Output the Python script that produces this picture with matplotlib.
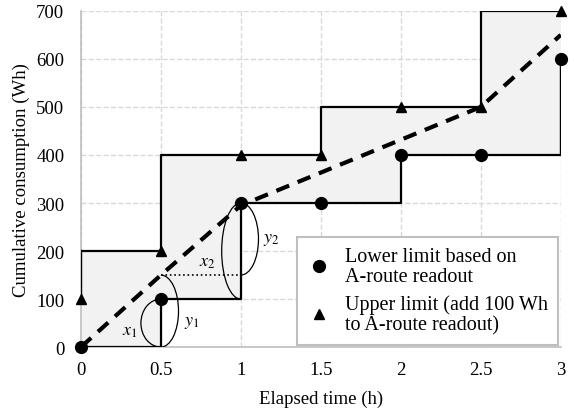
import matplotlib.pyplot as plt
from matplotlib.patches import Arc

plt.rcParams['font.family'] = ['Liberation Serif', 'DejaVu Serif']
plt.rcParams['mathtext.fontset'] = 'stix'

# data
time_h = [0, 0.5, 1, 1.5, 2, 2.5, 3]
lower_wh = [0, 100, 300, 300, 400, 400, 600]
upper_wh = [100, 200, 400, 400, 500, 500, 700]
est_time = [0, 0.5, 1, 2.5, 3]
est_wh = [0, 150, 295, 500, 650]

fig = plt.figure(figsize=(5.74, 4.10), dpi=100)
ax = fig.add_axes([0.141, 0.151, 0.836, 0.820])

# lower limit holds until the next reading, upper limit jumps at the start of each interval
for i in range(len(time_h) - 1):
    ax.fill_between([time_h[i], time_h[i + 1]], lower_wh[i], upper_wh[i + 1],
                    color='#f2f2f2', lw=0, zorder=1)
ax.step(time_h, lower_wh, where='post', color='black', lw=1.6, zorder=3)
ax.plot([time_h[-1], time_h[-1]], [lower_wh[-2], lower_wh[-1]], color='black', lw=1.6, zorder=3)
ax.step(time_h, upper_wh, where='pre', color='black', lw=1.6, zorder=3)
ax.plot([time_h[0], time_h[0]], [upper_wh[0], upper_wh[1]], color='black', lw=1.6, zorder=3)

ax.plot(est_time, est_wh, color='black', lw=3, ls=(0, (3.3, 2.2)), zorder=4)

ax.plot(time_h, lower_wh, 'o', color='black', ms=8.5, zorder=5, clip_on=False,
        label='Lower limit based on\nA-route readout')
ax.plot(time_h, upper_wh, '^', color='black', ms=7.5, zorder=5, clip_on=False,
        label='Upper limit (add 100 Wh\nto A-route readout)')

# dotted helper line and arcs
ax.plot([0.5, 1], [150, 150], color='black', lw=1.2, ls=':', zorder=3)
arcs = [(0.5, 50, 0.25, 100, 90, 270),
        (0.5, 75, 0.22, 150, -90, 90),
        (1, 200, 0.24, 200, 90, 270),
        (1, 225, 0.22, 150, -90, 90)]
for cx, cy, w, h, t1, t2 in arcs:
    ax.add_patch(Arc((cx, cy), w, h, theta1=t1, theta2=t2, color='black', lw=0.9, zorder=6))

ax.text(0.306, 35, '$x_1$', fontsize=13, ha='center', va='center')
ax.text(0.69, 54, '$y_1$', fontsize=13, ha='center', va='center')
ax.text(0.79, 179, '$x_2$', fontsize=13, ha='center', va='center')
ax.text(1.19, 227, '$y_2$', fontsize=13, ha='center', va='center')

ax.set_xlim(0, 3)
ax.set_ylim(0, 700)
ax.set_xticks(time_h)
ax.set_xticklabels(['0', '0.5', '1', '1.5', '2', '2.5', '3'])
ax.set_yticks(range(0, 701, 100))
ax.tick_params(labelsize=13.5, length=0)
ax.tick_params(axis='x', pad=10)
ax.tick_params(axis='y', pad=12)
ax.grid(True, color='#d9d9d9', ls='--', lw=1, zorder=0)
ax.set_axisbelow(True)
for s in ['top', 'right']:
    ax.spines[s].set_visible(False)
for s in ['left', 'bottom']:
    ax.spines[s].set_color('#bfbfbf')
    ax.spines[s].set_linewidth(1.2)

ax.set_xlabel('Elapsed time (h)', fontsize=13.5)
ax.set_ylabel('Cumulative consumption (Wh)', fontsize=13.5)
ax.xaxis.set_label_coords(0.5, -0.128)
ax.yaxis.set_label_coords(-0.106, 0.5)

leg = ax.legend(loc='lower right', bbox_to_anchor=(1.0, 0.0), fontsize=14.5,
                frameon=True, fancybox=False, edgecolor='#bfbfbf', framealpha=1,
                handlelength=1.2, handletextpad=0.7, borderpad=0.5, labelspacing=0.4,
                borderaxespad=0.12)
leg.get_frame().set_linewidth(1.5)
for t in leg.get_texts():
    t.set_linespacing(1.1)

fig.savefig('out.png', dpi=100)
